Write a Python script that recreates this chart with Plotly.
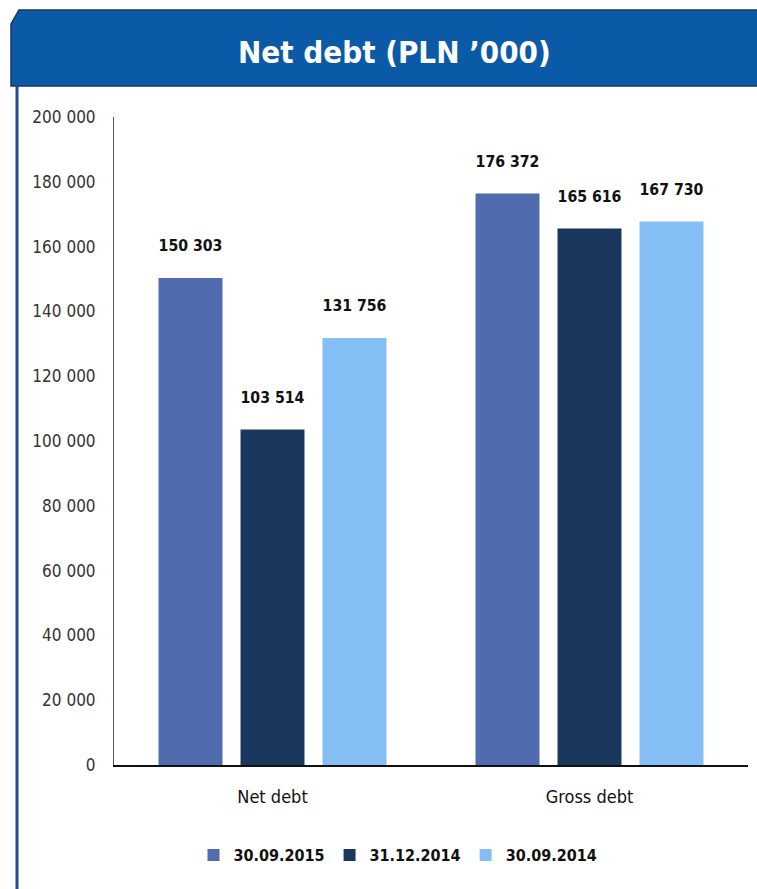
import plotly.graph_objects as go

# Chart data
categories = ["Net debt", "Gross debt"]
series_names = ["30.09.2015", "31.12.2014", "30.09.2014"]
values_2015_09 = [150303, 176372]
values_2014_12 = [103514, 165616]
values_2014_09 = [131756, 167730]
series_values = [values_2015_09, values_2014_12, values_2014_09]
series_colors = ["#506BAE", "#1A375E", "#85BDF5"]
y_ticks = [0, 20000, 40000, 60000, 80000, 100000, 120000, 140000, 160000, 180000, 200000]

W, H = 757, 889
ML, MR, MT, MB = 114, 9, 117, 124
PW, PH = W - ML - MR, H - MT - MB


def px_x(px):
    return (px - ML) / PW


def px_y(py):
    return (H - MB - py) / PH


NARROW = "Liberation Sans Narrow, DejaVu Sans Condensed, Arial Narrow, sans-serif"

fig = go.Figure()
for name, vals, col in zip(series_names, series_values, series_colors):
    fig.add_trace(go.Bar(
        x=categories, y=vals, name=name,
        marker=dict(color=col, line=dict(width=0)),
        texttemplate="%{y:,d}<br> ",
        textposition="outside",
        textfont=dict(family=NARROW, size=19, color="#111111", weight="bold"),
        cliponaxis=False,
    ))

# Header band with clipped top-left corner
header = (f"M {px_x(11)},{px_y(86)} L {px_x(11)},{px_y(24)} L {px_x(19)},{px_y(10)} "
          f"L {px_x(765)},{px_y(10)} L {px_x(765)},{px_y(86)} Z")
fig.add_shape(type="path", path=header, xref="paper", yref="paper",
              fillcolor="#0B5AA8", line=dict(color="#1B3660", width=1.5), layer="below")
# Left frame rule
fig.add_shape(type="line", xref="paper", yref="paper",
              x0=px_x(17), x1=px_x(17), y0=px_y(86), y1=px_y(895),
              line=dict(color="#1D4F91", width=3))

fig.add_annotation(text="Net debt (PLN ’000)", xref="paper", yref="paper",
                   x=px_x(394), y=px_y(52), showarrow=False,
                   font=dict(family="DejaVu Sans Condensed, DejaVu Sans, sans-serif", size=31,
                             color="white", weight="bold"),
                   xanchor="center", yanchor="middle")

fig.update_layout(
    width=W, height=H,
    margin=dict(l=ML, r=MR, t=MT, b=MB, autoexpand=False),
    paper_bgcolor="white", plot_bgcolor="white",
    barmode="group", bargap=0.224, bargroupgap=0.22,
    separators=". ",
    showlegend=True,
    legend=dict(orientation="h", x=px_x(398), xanchor="center", y=px_y(855), yanchor="middle",
                font=dict(family=NARROW, size=16, color="#111111", weight="bold"),
                itemwidth=30, traceorder="normal"),
    font=dict(family=NARROW),
)
fig.update_yaxes(range=[0, 200000], tickvals=y_ticks, tickformat=",d",
                 showgrid=False, zeroline=False, showline=True, linecolor="#555555", linewidth=1,
                 ticks="", ticklabelstandoff=14,
                 tickfont=dict(family=NARROW, size=17, color="#333333"))
fig.update_xaxes(showgrid=False, showline=True, linecolor="#111111", linewidth=1.5,
                 ticks="", ticklabelstandoff=15,
                 tickfont=dict(family=NARROW, size=18, color="#111111"))

fig.write_html("out.html")
